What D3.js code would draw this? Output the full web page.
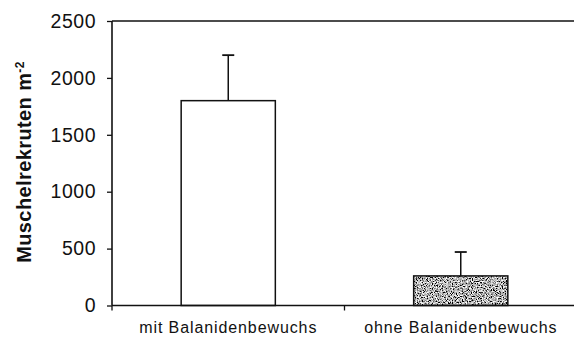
<!DOCTYPE html>
<html>
<head>
<meta charset="utf-8">
<script src="https://cdn.jsdelivr.net/npm/d3@7"></script>
<style>
  html, body { margin: 0; padding: 0; background: #fff; }
  svg { display: block; }
  text { font-family: "Liberation Sans", Arial, Helvetica, sans-serif; fill: #111; }
</style>
</head>
<body>
<svg id="chart" width="574" height="342"></svg>
<script>
// Mussel recruits per m² with and without barnacle cover (mean + SD)
const categories = ["mit Balanidenbewuchs", "ohne Balanidenbewuchs"];
const means = [1800, 260];
const errors = [400, 210];
const yTicks = [0, 500, 1000, 1500, 2000, 2500];
const fills = ["white", "grain"];

const svg = d3.select("#chart");
const plotLeft = 112, plotRight = 577, plotTop = 21, plotBottom = 305.5;

const x = d3.scaleBand().domain(categories).range([plotLeft, plotRight]).padding(0);
const y = d3.scaleLinear().domain([0, 2500]).range([plotBottom, plotTop]);
const barW = x.bandwidth() * 0.405;

// stippled grey fill
const defs = svg.append("defs");
const f = defs.append("filter").attr("id", "grain")
  .attr("x", 0).attr("y", 0).attr("width", 1).attr("height", 1);
f.append("feTurbulence").attr("type", "fractalNoise")
  .attr("baseFrequency", 0.8).attr("numOctaves", 2).attr("seed", 7).attr("result", "n");
f.append("feColorMatrix").attr("in", "n").attr("type", "matrix")
  .attr("values", "3 0 0 0 -1.05  3 0 0 0 -1.05  3 0 0 0 -1.05  0 0 0 0 1")
  .attr("result", "g");
f.append("feComposite").attr("in", "g").attr("in2", "SourceGraphic").attr("operator", "in");

// top frame line
svg.append("line")
  .attr("x1", plotLeft).attr("x2", 574).attr("y1", y(2500)).attr("y2", y(2500))
  .attr("stroke", "#111").attr("stroke-width", 1.4);

// y axis
const yAxis = svg.append("g").attr("transform", `translate(${plotLeft},0)`)
  .call(d3.axisLeft(y).tickValues(yTicks).tickSize(5).tickPadding(11).tickFormat(d3.format("d")));
yAxis.select(".domain").attr("stroke", "#111").attr("stroke-width", 1.6)
  .attr("d", `M0,${plotBottom}V${plotTop}`);
yAxis.selectAll(".tick line").attr("stroke", "#111").attr("stroke-width", 1.3);
yAxis.selectAll(".tick text")
  .style("font-size", "19.5px").style("letter-spacing", "0.5px").attr("fill", "#111");

// bars
const bars = svg.append("g");
categories.forEach((c, i) => {
  const cx = x(c) + x.bandwidth() / 2;
  const bx = cx - barW / 2;
  // error bar (upper only)
  bars.append("line")
    .attr("x1", cx).attr("x2", cx)
    .attr("y1", y(means[i])).attr("y2", y(means[i] + errors[i]))
    .attr("stroke", "#111").attr("stroke-width", 1.5);
  bars.append("line")
    .attr("x1", cx - 6).attr("x2", cx + 6)
    .attr("y1", y(means[i] + errors[i])).attr("y2", y(means[i] + errors[i]))
    .attr("stroke", "#111").attr("stroke-width", 1.8);
  if (fills[i] === "grain") {
    bars.append("rect")
      .attr("x", bx).attr("y", y(means[i]))
      .attr("width", barW).attr("height", y(0) - y(means[i]))
      .attr("fill", "#999").attr("filter", "url(#grain)");
    bars.append("rect")
      .attr("x", bx).attr("y", y(means[i]))
      .attr("width", barW).attr("height", y(0) - y(means[i]))
      .attr("fill", "none").attr("stroke", "#111").attr("stroke-width", 1.5);
  } else {
    bars.append("rect")
      .attr("x", bx).attr("y", y(means[i]))
      .attr("width", barW).attr("height", y(0) - y(means[i]))
      .attr("fill", "white").attr("stroke", "#111").attr("stroke-width", 1.5);
  }
});

// x axis
const xAxis = svg.append("g").attr("transform", `translate(0,${plotBottom})`)
  .call(d3.axisBottom(x).tickSize(0).tickPadding(16));
xAxis.select(".domain").attr("stroke", "#111").attr("stroke-width", 1.6)
  .attr("d", `M${plotLeft},0H574`);
xAxis.selectAll(".tick text")
  .style("font-size", "16px").style("letter-spacing", "0.9px").attr("fill", "#111");
// category boundary ticks
xAxis.selectAll(".bound").data(categories).enter().append("line")
  .attr("class", "bound")
  .attr("x1", d => x(d)).attr("x2", d => x(d))
  .attr("y1", 0).attr("y2", 5)
  .attr("stroke", "#111").attr("stroke-width", 1.3);

// y axis title
const title = svg.append("text")
  .attr("transform", "translate(31,162) rotate(-90)")
  .attr("text-anchor", "middle")
  .style("font-size", "20px").style("font-weight", "bold").style("letter-spacing", "0.4px");
title.append("tspan").text("Muschelrekruten m");
title.append("tspan").attr("dy", "-0.55em").style("font-size", "12px").text("-2");
</script>
</body>
</html>
